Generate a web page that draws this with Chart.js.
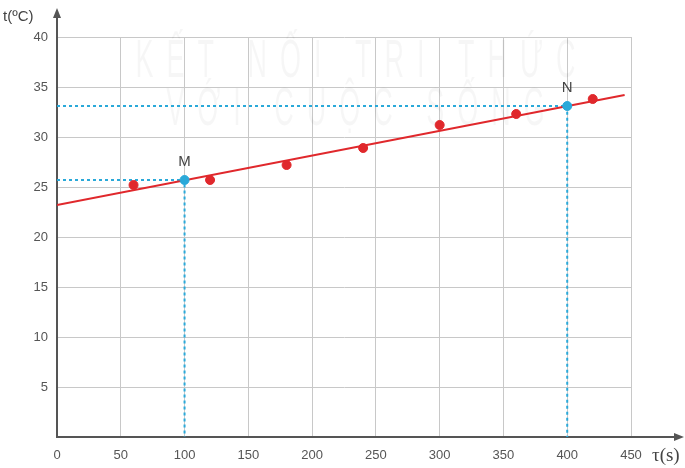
<!DOCTYPE html>
<html>
<head>
<meta charset="utf-8">
<script src="https://cdn.jsdelivr.net/npm/chart.js@4.4.1/dist/chart.umd.min.js"></script>
<style>
  html, body { margin: 0; padding: 0; background: #fff; }
  #wrap { width: 685px; height: 468px; }
</style>
</head>
<body>
<div id="wrap"><canvas id="chart" width="685" height="468"></canvas></div>
<script>
// measured points (time in s, temperature in degC)
const timeS = [60, 120, 180, 240, 300, 360, 420];
const tempC = [25.2, 25.7, 27.2, 28.9, 31.2, 32.3, 33.8];

// the two marked points used for reading the slope
const markNames = ["M", "N"];
const markTime = [100, 400];
const markTemp = [25.7, 33.1];

// fitted straight line ends
const fitTime = [0, 445];
const fitTemp = [23.2, 34.2];

const xTicks = [0, 50, 100, 150, 200, 250, 300, 350, 400, 450];
const yTicks = [5, 10, 15, 20, 25, 30, 35, 40];

const red = "#e0282c";
const cyan = "#2aa9d9";
const axisColor = "#555";

// dashed guide lines: axis -> mark -> axis
const guides = markTime.map((t, i) => ({
  type: "line",
  data: [{ x: 0, y: markTemp[i] }, { x: t, y: markTemp[i] }, { x: t, y: 0 }],
  borderColor: cyan,
  borderWidth: 2,
  borderDash: [3, 3],
  pointRadius: 0,
  fill: false
}));

// axis arrows, axis names, point names, watermark
const extras = {
  id: "extras",
  beforeDatasetsDraw(chart) {
    const ctx = chart.ctx;
    ctx.save();
    ctx.fillStyle = "rgba(0,0,0,0.035)";
    ctx.font = "54px 'Liberation Sans', sans-serif";
    ctx.textAlign = "center";
    ctx.textBaseline = "middle";
    if (ctx.letterSpacing !== undefined) ctx.letterSpacing = "26px";
    ctx.translate(362, 0);
    ctx.scale(0.5, 1);
    ctx.fillText("KẾT NỐI TRI THỨC", 0, 62);
    ctx.fillText("VỚI CUỘC SỐNG", 0, 110);
    ctx.restore();
  },
  afterDraw(chart) {
    const ctx = chart.ctx;
    const a = chart.chartArea;
    ctx.save();
    ctx.strokeStyle = axisColor;
    ctx.fillStyle = axisColor;
    ctx.lineWidth = 2;
    // y arrow
    ctx.beginPath();
    ctx.moveTo(a.left, a.top);
    ctx.lineTo(a.left, 14);
    ctx.stroke();
    ctx.beginPath();
    ctx.moveTo(a.left, 8);
    ctx.lineTo(a.left - 4, 18);
    ctx.lineTo(a.left + 4, 18);
    ctx.closePath();
    ctx.fill();
    // x arrow
    ctx.beginPath();
    ctx.moveTo(a.right, a.bottom);
    ctx.lineTo(678, a.bottom);
    ctx.stroke();
    ctx.beginPath();
    ctx.moveTo(684, a.bottom);
    ctx.lineTo(674, a.bottom - 4);
    ctx.lineTo(674, a.bottom + 4);
    ctx.closePath();
    ctx.fill();

    ctx.font = "15px 'Liberation Sans', Arial, sans-serif";
    ctx.textBaseline = "middle";
    ctx.textAlign = "left";
    ctx.fillStyle = "#444";
    ctx.fillText("t(ºC)", 3, 17);
    ctx.font = "19px 'Liberation Serif', serif";
    ctx.fillText("τ(s)", 652, 456);

    // point names
    const xs = chart.scales.x, ys = chart.scales.y;
    ctx.font = "15px 'Liberation Sans', Arial, sans-serif";
    ctx.textAlign = "center";
    ctx.fillStyle = "#444";
    markNames.forEach((n, i) => {
      ctx.fillText(n, xs.getPixelForValue(markTime[i]), ys.getPixelForValue(markTemp[i]) - 18);
    });
    ctx.restore();
  }
};

new Chart(document.getElementById("chart"), {
  type: "scatter",
  data: {
    datasets: [
      {
        label: "marks",
        data: markTime.map((t, i) => ({ x: t, y: markTemp[i] })),
        backgroundColor: cyan,
        borderColor: cyan,
        pointRadius: 4.5
      },
      {
        label: "measured",
        data: timeS.map((t, i) => ({ x: t, y: tempC[i] })),
        backgroundColor: red,
        borderColor: red,
        pointRadius: 4.5
      },
      {
        type: "line",
        label: "fit",
        data: fitTime.map((t, i) => ({ x: t, y: fitTemp[i] })),
        borderColor: red,
        borderWidth: 2,
        pointRadius: 0,
        fill: false
      },
      ...guides
    ]
  },
  options: {
    responsive: false,
    animation: false,
    layout: { padding: { left: 0, right: 54, top: 37, bottom: 0 } },
    plugins: { legend: { display: false }, tooltip: { enabled: false } },
    scales: {
      x: {
        type: "linear",
        min: 0,
        max: 450,
        afterBuildTicks: s => { s.ticks = xTicks.map(v => ({ value: v })); },
        afterFit: s => { s.height = 31; },
        grid: { color: "#c8c8c8", lineWidth: 1, drawTicks: false },
        border: { color: axisColor, width: 2 },
        ticks: { color: "#555", padding: 11, font: { size: 13, family: "'Liberation Sans', Arial, sans-serif" } }
      },
      y: {
        type: "linear",
        min: 0,
        max: 40,
        afterBuildTicks: s => { s.ticks = [0, ...yTicks].map(v => ({ value: v })); },
        afterFit: s => { s.width = 57; },
        grid: { color: "#c8c8c8", lineWidth: 1, drawTicks: false },
        border: { color: axisColor, width: 2 },
        ticks: {
          color: "#555",
          padding: 9,
          font: { size: 13, family: "'Liberation Sans', Arial, sans-serif" },
          callback: v => (v === 0 ? "" : v)
        }
      }
    }
  },
  plugins: [extras]
});
</script>
</body>
</html>
